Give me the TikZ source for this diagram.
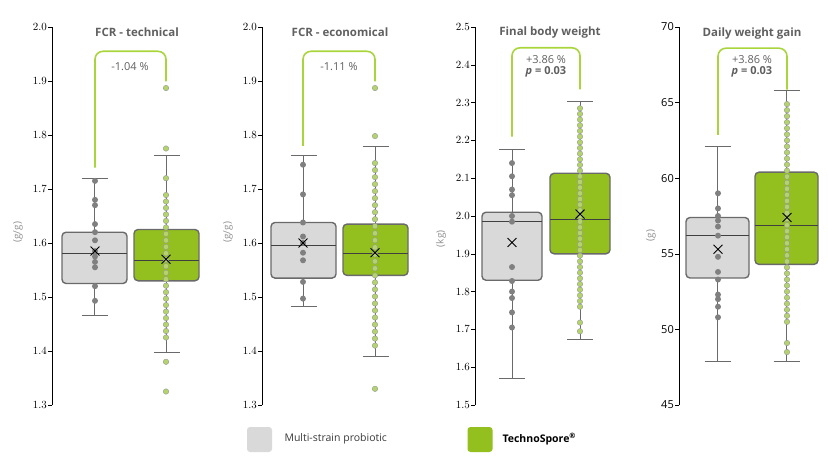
\documentclass[tikz,border=0pt]{standalone}
\usepackage{fontspec}
\setmainfont{Open Sans}
\usetikzlibrary{shapes.misc}
\definecolor{boxgrey}{HTML}{D9D9D9}
\definecolor{edge}{HTML}{6A6A6A}
\definecolor{tsgreen}{HTML}{93C01F}
\definecolor{dotgreen}{HTML}{B2D46A}
\definecolor{bracket}{HTML}{A9D53C}
\definecolor{txt}{HTML}{606060}

\tikzset{
  grey box/.style={draw=edge, line width=1.4pt, fill=boxgrey, rounded corners=4pt},
  green box/.style={draw=edge, line width=1.4pt, fill=tsgreen, rounded corners=4pt},
  whisker/.style={draw=edge, line width=0.9pt},
  gdot/.style={circle, fill=edge!85, inner sep=0pt, minimum size=6pt},
  vdot/.style={circle, fill=dotgreen, draw=edge!70, line width=0.4pt, inner sep=0pt, minimum size=5.5pt},
  meanx/.style={cross out, draw=black, line width=0.9pt, minimum size=8pt, inner sep=0pt},
  tick label/.style={anchor=east, font=\fontsize{11}{13}\selectfont, inner sep=1pt},
  unit label/.style={rotate=90, text=txt!70, font=\fontsize{10}{12}\selectfont},
  title/.style={text=txt, font=\bfseries\fontsize{11.5}{14}\selectfont},
  diff/.style={text=txt, font=\fontsize{11}{13}\selectfont, align=center, inner sep=0pt},
  brk/.style={draw=bracket, line width=1.6pt, rounded corners=8pt}
}

% one box: x-left, x-right, whisker low, q1, median, q3, whisker high, style
\newcommand{\bxp}[8]{
  \pgfmathsetmacro\xm{(#1+#2)/2}
  \draw[whisker] (\xm,#3) -- (\xm,#7);
  \draw[whisker] (\xm-13,#3) -- (\xm+13,#3);
  \draw[whisker] (\xm-13,#7) -- (\xm+13,#7);
  \draw[#8] (#1,#4) rectangle (#2,#6);
  \draw[draw=edge!60!black, line width=1pt] (#1,#5) -- (#2,#5);
}

\begin{document}
\begin{tikzpicture}[x=1pt,y=1pt]
  \useasboundingbox (0,-460) rectangle (828,0);

  % FCR - technical
  \begin{scope}[yshift=-1107pt, yscale=540]
    \draw[line width=0.7pt] (52,1.3) -- (52,2.0);
    \foreach \v in {1.3,1.4,...,2.05}
      \draw (52,\v) -- (48,\v) node[tick label] {\pgfmathprintnumber[fixed,precision=1,zerofill]{\v}};
    \node[unit label] (u1) at (18,1.62) {(g/g)};
    \node[title] (t1) at (137,1.99) {FCR - technical};
    \bxp{62}{127}{1.465}{1.525}{1.58}{1.62}{1.72}{grey box}
    \bxp{134}{199}{1.397}{1.53}{1.567}{1.625}{1.762}{green box}
    \foreach \v in {1.715,1.68,1.67,1.635,1.62,1.605,1.585,1.575,1.565,1.555,1.52,1.493}
      \node[gdot] at (95,\v) {};
    \foreach \v in {1.425,1.437,...,1.69}
      \node[vdot] at (166,\v) {};
    \foreach \v in {1.887,1.775,1.72,1.38,1.325}
      \node[vdot] at (166,\v) {};
    \node[meanx] (m1a) at (95,1.585) {};
    \node[meanx] (m1b) at (166,1.57) {};
    \coordinate (b1a) at (95,1.745);
    \coordinate (b1b) at (166,1.905);
    \draw[brk] (b1a) |- (130,1.955) -| (b1b);
    \node[diff] (d1) at (130,1.927) {-1.04 \%};
  \end{scope}

  % FCR - economical
  \begin{scope}[yshift=-1107pt, yscale=540]
    \draw[line width=0.7pt] (262,1.3) -- (262,2.0);
    \foreach \v in {1.3,1.4,...,2.05}
      \draw (262,\v) -- (258,\v) node[tick label] {\pgfmathprintnumber[fixed,precision=1,zerofill]{\v}};
    \node[unit label] (u2) at (228,1.62) {(g/g)};
    \node[title] (t2) at (340,1.99) {FCR - economical};
    \bxp{271}{336}{1.483}{1.535}{1.595}{1.638}{1.763}{grey box}
    \bxp{343}{408}{1.39}{1.54}{1.58}{1.635}{1.778}{green box}
    \foreach \v in {1.745,1.69,1.638,1.612,1.6,1.582,1.568,1.528,1.497}
      \node[gdot] at (303,\v) {};
    \foreach \v in {1.41,1.423,...,1.75}
      \node[vdot] at (375,\v) {};
    \foreach \v in {1.887,1.798,1.33}
      \node[vdot] at (375,\v) {};
    \node[meanx] (m2a) at (303,1.6) {};
    \node[meanx] (m2b) at (375,1.582) {};
    \coordinate (b2a) at (303,1.785);
    \coordinate (b2b) at (375,1.905);
    \draw[brk] (b2a) |- (339,1.955) -| (b2b);
    \node[diff] (d2) at (339,1.927) {-1.11 \%};
  \end{scope}

  % Final body weight
  \begin{scope}[yshift=-972pt, yscale=378]
    \draw[line width=0.7pt] (475,1.5) -- (475,2.5);
    \foreach \v in {1.5,1.6,...,2.55}
      \draw (475,\v) -- (471,\v) node[tick label] {\pgfmathprintnumber[fixed,precision=1,zerofill]{\v}};
    \node[unit label] (u3) at (441,1.94) {(kg)};
    \node[title] (t3) at (550,2.485) {Final body weight};
    \bxp{482}{542}{1.57}{1.83}{1.985}{2.01}{2.175}{grey box}
    \bxp{550}{610}{1.673}{1.9}{1.99}{2.113}{2.302}{green box}
    \foreach \v in {2.14,2.105,2.07,2.055,2.0,1.985,1.865,1.828,1.8,1.783,1.745,1.705}
      \node[gdot] at (512,\v) {};
    \foreach \v in {1.76,1.775,...,2.285}
      \node[vdot] at (580,\v) {};
    \foreach \v in {1.695,1.718}
      \node[vdot] at (580,\v) {};
    \node[meanx] (m3a) at (512,1.93) {};
    \node[meanx] (m3b) at (580,2.005) {};
    \coordinate (b3a) at (512,2.215);
    \coordinate (b3b) at (580,2.34);
    \draw[brk] (b3a) |- (546,2.445) -| (b3b);
    \node[diff] (d3) at (546,2.397) {+3.86 \%\\[-2pt]\textbf{\textit{p} = 0.03}};
  \end{scope}

  % Daily weight gain
  \begin{scope}[yshift=-1085.4pt, yscale=15.12]
    \draw[line width=0.7pt] (679,45) -- (679,70);
    \foreach \v in {45,50,...,70}
      \draw (679,\v) -- (675,\v) node[tick label] {\v};
    \node[unit label] (u4) at (651,56.2) {(g)};
    \node[title] (t4) at (752,69.6) {Daily weight gain};
    \bxp{686}{749}{47.9}{53.4}{56.2}{57.4}{62.1}{grey box}
    \bxp{755}{818}{47.85}{54.3}{56.9}{60.4}{65.8}{green box}
    \foreach \v in {59,58,57.5,57.2,56.8,56.2,54.8,53.8,53.3,52.3,52,51.5,50.8}
      \node[gdot] at (718,\v) {};
    \foreach \v in {50.5,50.9,...,65.2}
      \node[vdot] at (787,\v) {};
    \foreach \v in {48.5,49.1}
      \node[vdot] at (787,\v) {};
    \node[meanx] (m4a) at (718,55.3) {};
    \node[meanx] (m4b) at (787,57.4) {};
    \coordinate (b4a) at (718,62.9);
    \coordinate (b4b) at (787,65.9);
    \draw[brk] (b4a) |- (752,68.6) -| (b4b);
    \node[diff] (d4) at (752,67.4) {+3.86 \%\\[-2pt]\textbf{\textit{p} = 0.03}};
  \end{scope}

  % legend
  \node[fill=boxgrey, rounded corners=3pt, minimum size=25pt, inner sep=0pt] (lg1) at (259.5,-439.5) {};
  \node[anchor=west, text=txt!60!black, font=\fontsize{10.5}{12}\selectfont] (lt1) at (281,-439) {Multi-strain probiotic};
  \node[fill=tsgreen, rounded corners=3pt, minimum size=25pt, inner sep=0pt] (lg2) at (480,-439.5) {};
  \node[anchor=west, font=\bfseries\fontsize{10.5}{12}\selectfont] (lt2) at (499,-439) {TechnoSpore\textsuperscript{®}};
\end{tikzpicture}
\end{document}
